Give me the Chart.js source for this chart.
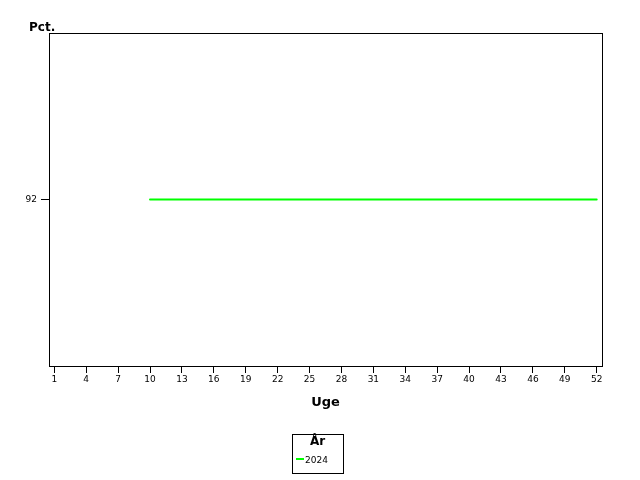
<!DOCTYPE html>
<html>
<head>
<meta charset="utf-8">
<script src="https://cdn.jsdelivr.net/npm/chart.js@4/dist/chart.umd.min.js"></script>
<style>
  html, body { margin: 0; padding: 0; background: #fff; }
  #wrap { width: 640px; height: 480px; }
</style>
</head>
<body>
<div id="wrap"><canvas id="chart"></canvas></div>
<script>
const weeks = [10, 11, 12, 13, 14, 15, 16, 17, 18, 19, 20, 21, 22, 23, 24, 25, 26, 27, 28, 29, 30,
               31, 32, 33, 34, 35, 36, 37, 38, 39, 40, 41, 42, 43, 44, 45, 46, 47, 48, 49, 50, 51, 52]
const pct2024 = [92, 92, 92, 92, 92, 92, 92, 92, 92, 92, 92, 92, 92, 92, 92, 92, 92, 92, 92, 92, 92,
                 92, 92, 92, 92, 92, 92, 92, 92, 92, 92, 92, 92, 92, 92, 92, 92, 92, 92, 92, 92, 92, 92]
const xTicks = [1, 4, 7, 10, 13, 16, 19, 22, 25, 28, 31, 34, 37, 40, 43, 46, 49, 52]
const yTicks = [92]
const seriesLabel = '2024'
const legendTitle = 'År'

const tickFont = { family: 'DejaVu Sans', size: 9 }

// frame round the plot, the "Pct." label and the boxed legend
const extras = {
    id: 'extras',
    afterDraw(chart) {
        const ctx = chart.ctx
        const a = chart.chartArea
        ctx.save()
        ctx.strokeStyle = '#000'
        ctx.lineWidth = 1
        ctx.strokeRect(Math.round(a.left) + 0.5, Math.round(a.top) + 0.5,
                       Math.round(a.right - a.left), Math.round(a.bottom - a.top))

        ctx.fillStyle = '#000'
        ctx.font = 'bold 12px "DejaVu Sans"'
        ctx.textAlign = 'left'
        ctx.textBaseline = 'alphabetic'
        ctx.fillText('Pct.', 29, 31)

        const ds = chart.data.datasets[0]
        const bx = 292, by = 434, bw = 51, bh = 39
        ctx.strokeRect(bx + 0.5, by + 0.5, bw, bh)
        ctx.textAlign = 'center'
        ctx.textBaseline = 'middle'
        ctx.font = 'bold 12px "DejaVu Sans"'
        ctx.fillText(legendTitle, bx + bw / 2, by + 8)
        ctx.strokeStyle = ds.borderColor
        ctx.lineWidth = 2
        ctx.beginPath()
        ctx.moveTo(296, 459)
        ctx.lineTo(304, 459)
        ctx.stroke()
        ctx.fillStyle = '#000'
        ctx.textAlign = 'left'
        ctx.font = '9px "DejaVu Sans"'
        ctx.fillText(ds.label, 305, 461)
        ctx.restore()
    }
}

new Chart(document.getElementById('chart'), {
    type: 'line',
    data: {
        datasets: [{
            label: seriesLabel,
            data: weeks.map((w, i) => ({ x: w, y: pct2024[i] })),
            borderColor: '#00ff00',
            borderWidth: 2,
            pointRadius: 0,
            borderCapStyle: 'round',
            tension: 0
        }]
    },
    options: {
        responsive: true,
        maintainAspectRatio: false,
        animation: false,
        layout: { padding: { left: 0, top: 33, right: 38, bottom: 64 } },
        scales: {
            x: {
                type: 'linear',
                min: 0.5,
                max: 52.5,
                afterBuildTicks: s => { s.ticks = xTicks.map(v => ({ value: v })) },
                afterFit: s => { s.height = 50 },
                grid: { drawOnChartArea: false, tickLength: 7, color: '#000' },
                border: { display: false },
                ticks: { color: '#000', font: tickFont, padding: 1, maxRotation: 0, autoSkip: false },
                title: {
                    display: true,
                    text: 'Uge',
                    color: '#000',
                    font: { family: 'DejaVu Sans', size: 13, weight: 'bold' },
                    padding: { top: 2, bottom: 6 }
                }
            },
            y: {
                min: 91,
                max: 93,
                afterBuildTicks: s => { s.ticks = yTicks.map(v => ({ value: v })) },
                afterFit: s => { s.width = 49 },
                grid: { drawOnChartArea: false, tickLength: 8, color: '#000' },
                border: { display: false },
                ticks: { color: '#000', font: tickFont, padding: 4 }
            }
        },
        plugins: {
            legend: { display: false },
            tooltip: { enabled: false }
        }
    },
    plugins: [extras]
})
</script>
</body>
</html>
